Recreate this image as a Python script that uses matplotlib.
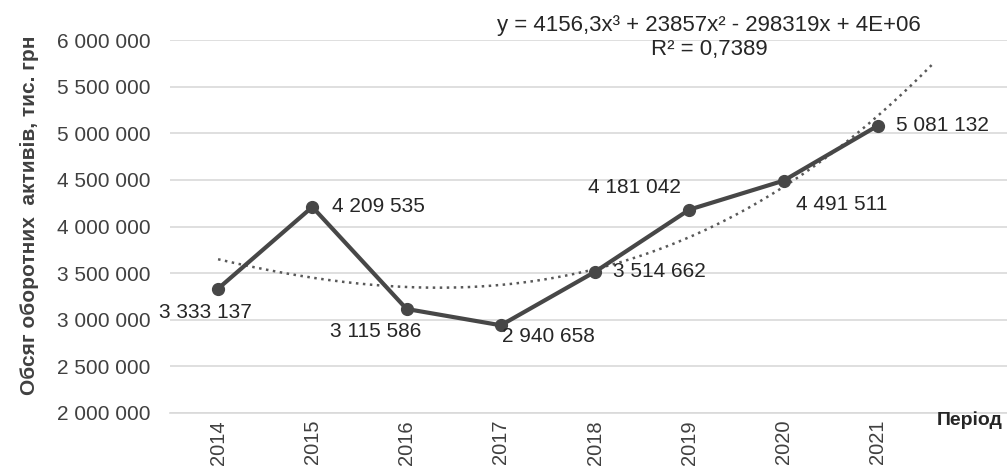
import numpy as np
import matplotlib
matplotlib.use("Agg")
import matplotlib.pyplot as plt
from matplotlib.ticker import FuncFormatter

plt.rcParams['font.family'] = ['Liberation Sans', 'DejaVu Sans']

years = ['2014', '2015', '2016', '2017', '2018', '2019', '2020', '2021']
assets = [3333137, 4209535, 3115586, 2940658, 3514662, 4181042, 4491511, 5081132]

# label placement per point: (dx, dy) in points, ha
label_pos = [(-9, -17, 'center'), (14, 0, 'left'), (-22, -16, 'center'), (1, -8, 'left'),
             (13, 0, 'left'), (-6, 16, 'right'), (9, -17, 'left'), (13, 0, 'left')]

def fmt(v):
    return f"{int(v):,}".replace(",", " ")

fig = plt.figure(figsize=(10.07, 4.70), dpi=100)
ax = fig.add_axes([170 / 1007, 57 / 470, 1 - 170 / 1007, 373 / 470])

x = np.arange(len(years))

# cubic trend line (Excel x = 1..8), extended forward
coef = np.polyfit(x + 1, assets, 3)
xt = np.linspace(0, 7.57, 200)
ax.plot(xt, np.polyval(coef, xt + 1), color='#595959', linestyle=(0, (1, 1.8)),
        linewidth=1.8, zorder=2)

ax.plot(x, assets, color='#474747', linewidth=3, marker='o', markersize=8.5, zorder=3)

for xi, v, (dx, dy, ha) in zip(x, assets, label_pos):
    ax.annotate(fmt(v), (xi, v), xytext=(dx, dy), textcoords='offset points',
                ha=ha, va='center', fontsize=15, color='#262626')

ax.set_ylim(2000000, 6000000)
ax.set_xlim(-0.51, 8.37)
ax.set_yticks(np.arange(2000000, 6000001, 500000))
ax.yaxis.set_major_formatter(FuncFormatter(lambda v, p: fmt(v)))
ax.set_xticks(x)
ax.set_xticklabels(years, rotation=90, fontsize=14.5, color='#404040')
ax.tick_params(axis='y', length=0, pad=14, labelsize=15, labelcolor='#404040')
ax.tick_params(axis='x', length=0, pad=5)
ax.grid(axis='y', color='#d9d9d9', linewidth=1.2)
ax.set_axisbelow(True)
for s in ['top', 'right', 'left']:
    ax.spines[s].set_visible(False)
ax.spines['bottom'].set_color('#d9d9d9')
ax.spines['bottom'].set_linewidth(1.2)

fig.text(30 / 1007, 1 - 215 / 470, 'Обсяг оборотних  активів, тис. грн', rotation=90,
         ha='center', va='center', fontsize=15, fontweight='bold', color='#404040')
fig.text(1003 / 1007, 1 - 420 / 470, 'Період', ha='right', va='center',
         fontsize=14, fontweight='bold', color='#262626')
fig.text(709 / 1007, 1 - 26 / 470, 'y = 4156,3x³ + 23857x² - 298319x + 4E+06',
         ha='center', va='center', fontsize=16, color='#262626')
fig.text(709 / 1007, 1 - 50 / 470, 'R² = 0,7389', ha='center', va='center',
         fontsize=16, color='#262626')

fig.savefig('out.png', dpi=100)
